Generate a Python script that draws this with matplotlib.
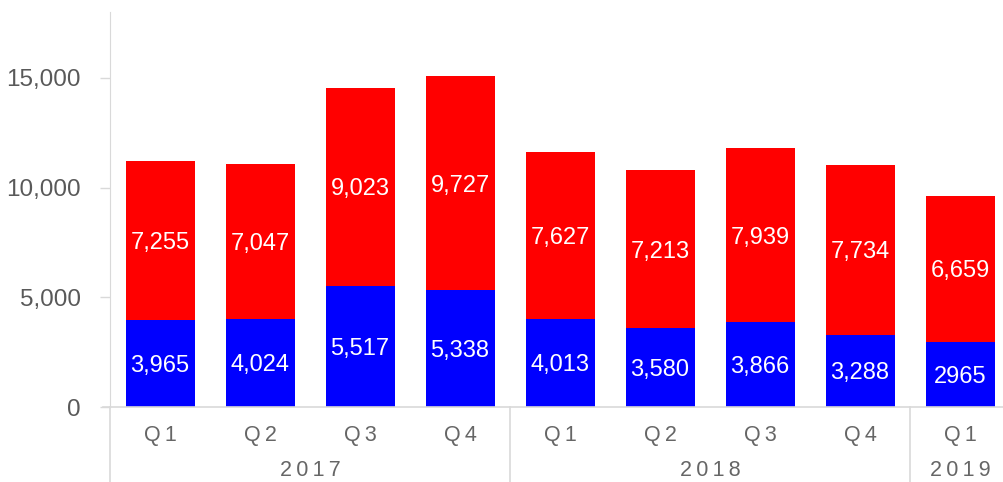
import matplotlib.pyplot as plt
import numpy as np

plt.rcParams['font.family'] = ['Liberation Sans', 'DejaVu Sans']

quarters = ["Q1", "Q2", "Q3", "Q4", "Q1", "Q2", "Q3", "Q4", "Q1"]
years = ["2017", "2018", "2019"]
year_spans = [(0, 3), (4, 7), (8, 8)]
blue_vals = [3965, 4024, 5517, 5338, 4013, 3580, 3866, 3288, 2965]
red_vals = [7255, 7047, 9023, 9727, 7627, 7213, 7939, 7734, 6659]
blue_labels = ["3,965", "4,024", "5,517", "5,338", "4,013", "3,580", "3,866", "3,288", "2965"]
red_labels = ["7,255", "7,047", "9,023", "9,727", "7,627", "7,213", "7,939", "7,734", "6,659"]

W, H = 1004, 482
fig = plt.figure(figsize=(W / 100, H / 100), dpi=100)
left, right, bottom, top = 110, 1004, H - 407, H - 12
ax = fig.add_axes([left / W, bottom / H, (right - left) / W, (top - bottom) / H])

x = np.arange(len(quarters))
ax.bar(x, blue_vals, width=0.69, color="#0000ff")
ax.bar(x, red_vals, width=0.69, bottom=blue_vals, color="#ff0000")

for i in range(len(x)):
    ax.text(x[i], blue_vals[i] / 2, blue_labels[i], ha="center", va="center_baseline",
            color="white", fontsize=17)
    ax.text(x[i], blue_vals[i] + red_vals[i] / 2, red_labels[i], ha="center",
            va="center_baseline", color="white", fontsize=17)

ax.set_xlim(-0.5, -0.5 + (right - left) / 100)
ax.set_ylim(0, 18000)
ax.set_yticks([0, 5000, 10000, 15000])
ax.set_yticklabels(["0", "5,000", "10,000", "15,000"])
ax.tick_params(axis="y", colors="#d9d9d9", labelcolor="#595959", labelsize=17.5,
               length=7, width=1, pad=14)
ax.set_xticks([])

for s in ["top", "right"]:
    ax.spines[s].set_visible(False)
ax.spines["left"].set_color("#d9d9d9")
ax.spines["bottom"].set_color("#d9d9d9")
ax.spines["bottom"].set_linewidth(1.2)

# category / year labels below the axis
trans = ax.get_xaxis_transform()
thin = "\u2009"
for i, q in enumerate(quarters):
    ax.text(x[i], -28 / (top - bottom), thin.join(q), transform=trans, ha="center",
            va="center", color="#666666", fontsize=15.5, clip_on=False)
for (a, b), yr in zip(year_spans, years):
    ax.text((a + b) / 2, -63 / (top - bottom), thin.join(yr), transform=trans, ha="center",
            va="center", color="#666666", fontsize=15.5, clip_on=False)
    ax.plot([a - 0.5, a - 0.5], [0, -80 / (top - bottom)], transform=trans,
            color="#d9d9d9", lw=1.2, clip_on=False)
ax.plot([-0.57, -0.5], [0, 0], transform=trans, color="#d9d9d9", lw=1.2, clip_on=False)

fig.savefig("out.png", dpi=100)
